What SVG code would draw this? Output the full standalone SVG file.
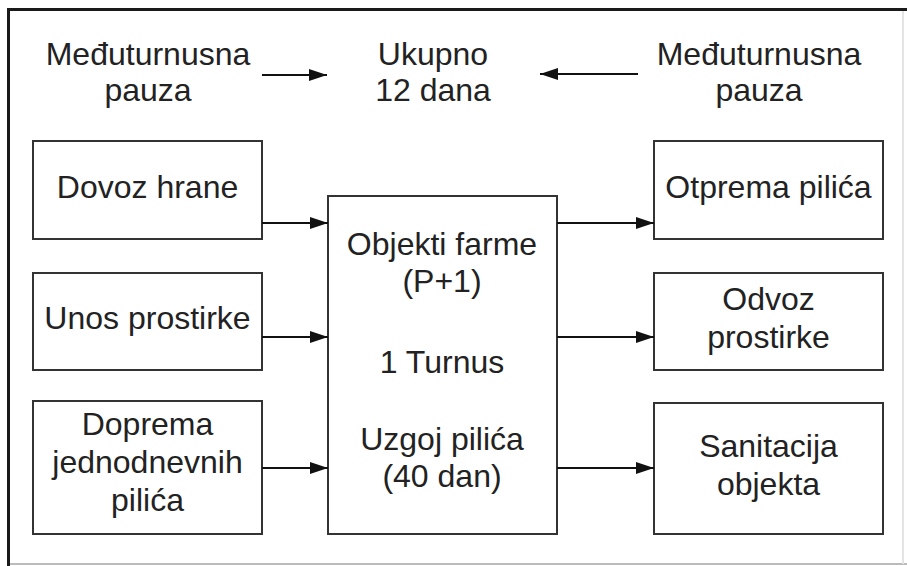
<svg xmlns="http://www.w3.org/2000/svg" width="907" height="566" viewBox="0 0 907 566">
<defs>
<style>
.box{fill:#fff;stroke:#333;stroke-width:2}
.t{font-family:"Liberation Sans",Arial,sans-serif;font-size:32px;fill:#222;text-anchor:middle}
.c{stroke:#111;stroke-width:2;fill:none}
</style>
<marker id="ah" markerWidth="18" markerHeight="12" refX="18" refY="6" orient="auto" markerUnits="userSpaceOnUse">
<path d="M0,0 L18,6 L0,12 Z" fill="#111"/>
</marker>
</defs>
<rect x="0" y="0" width="907" height="566" fill="#fff"/>
<g id="frame">
<line x1="7" y1="9.5" x2="907" y2="9.5" stroke="#1a1a1a" stroke-width="3"/>
<line x1="8.5" y1="8" x2="8.5" y2="566" stroke="#1a1a1a" stroke-width="3"/>
<line x1="10" y1="564" x2="907" y2="564" stroke="#bbb" stroke-width="2"/>
<line x1="903" y1="11" x2="903" y2="564" stroke="#e4e4e4" stroke-width="2"/>
</g>
<g id="pause-left">
<text class="t" x="148" y="65">Međuturnusna</text>
<text class="t" x="148" y="101">pauza</text>
</g>
<g id="total">
<text class="t" x="433" y="65">Ukupno</text>
<text class="t" x="433" y="101">12 dana</text>
</g>
<g id="pause-right">
<text class="t" x="759" y="65">Međuturnusna</text>
<text class="t" x="759" y="101">pauza</text>
</g>
<g id="dovoz-hrane">
<rect class="box" x="33" y="141" width="229" height="98"/>
<text class="t" x="147.5" y="198">Dovoz hrane</text>
</g>
<g id="unos-prostirke">
<rect class="box" x="33" y="273" width="229" height="97"/>
<text class="t" x="147.5" y="329">Unos prostirke</text>
</g>
<g id="doprema">
<rect class="box" x="33" y="401" width="229" height="133"/>
<text class="t" x="147.5" y="435">Doprema</text>
<text class="t" x="147.5" y="473">jednodnevnih</text>
<text class="t" x="147.5" y="511">pilića</text>
</g>
<g id="objekti">
<rect class="box" x="328" y="196" width="229" height="338"/>
<text class="t" x="442" y="255">Objekti farme</text>
<text class="t" x="442" y="292">(P+1)</text>
<text class="t" x="442" y="373">1 Turnus</text>
<text class="t" x="442" y="450">Uzgoj pilića</text>
<text class="t" x="442" y="487">(40 dan)</text>
</g>
<g id="otprema">
<rect class="box" x="654" y="141" width="229" height="98"/>
<text class="t" x="768.5" y="198">Otprema pilića</text>
</g>
<g id="odvoz">
<rect class="box" x="654" y="273" width="229" height="97"/>
<text class="t" x="768.5" y="310">Odvoz</text>
<text class="t" x="768.5" y="348">prostirke</text>
</g>
<g id="sanitacija">
<rect class="box" x="654" y="403" width="229" height="131"/>
<text class="t" x="768.5" y="457">Sanitacija</text>
<text class="t" x="768.5" y="495">objekta</text>
</g>
<g id="connectors">
<line class="c" x1="262" y1="75" x2="327" y2="75" marker-end="url(#ah)"/>
<line class="c" x1="638" y1="74" x2="540" y2="74" marker-end="url(#ah)"/>
<line class="c" x1="262" y1="223" x2="328" y2="223" marker-end="url(#ah)"/>
<line class="c" x1="262" y1="337" x2="328" y2="337" marker-end="url(#ah)"/>
<line class="c" x1="262" y1="468" x2="328" y2="468" marker-end="url(#ah)"/>
<line class="c" x1="557" y1="223" x2="654" y2="223" marker-end="url(#ah)"/>
<line class="c" x1="557" y1="337" x2="654" y2="337" marker-end="url(#ah)"/>
<line class="c" x1="557" y1="468" x2="654" y2="468" marker-end="url(#ah)"/>
</g>
</svg>
